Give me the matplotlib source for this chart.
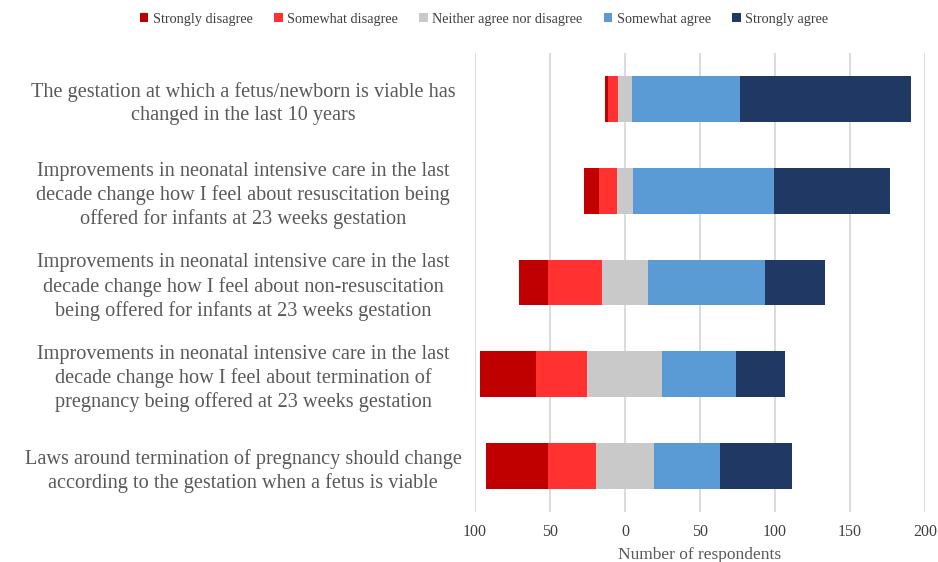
import numpy as np
import matplotlib.pyplot as plt
from matplotlib.ticker import FuncFormatter

plt.rcParams['font.family'] = ['Liberation Serif', 'DejaVu Serif']

# survey statements (top to bottom)
statements = [
    'The gestation at which a fetus/newborn is viable has\nchanged in the last 10 years',
    'Improvements in neonatal intensive care in the last\ndecade change how I feel about resuscitation being\noffered for infants at 23 weeks gestation',
    'Improvements in neonatal intensive care in the last\ndecade change how I feel about non-resuscitation\nbeing offered for infants at 23 weeks gestation',
    'Improvements in neonatal intensive care in the last\ndecade change how I feel about termination of\npregnancy being offered at 23 weeks gestation',
    'Laws around termination of pregnancy should change\naccording to the gestation when a fetus is viable',
]

strongly_disagree = [2, 10, 19, 38, 41]
somewhat_disagree = [7, 12, 36, 34, 32]
neither = [9, 11, 31, 50, 39]
somewhat_agree = [72, 94, 78, 49, 44]
strongly_agree = [114, 77, 40, 33, 48]

labels = ['Strongly disagree', 'Somewhat disagree', 'Neither agree nor disagree',
          'Somewhat agree', 'Strongly agree']
colors = ['#C00000', '#FF3131', '#C9C9C9', '#5B9BD5', '#203864']

fig = plt.figure(figsize=(9.38, 5.62), dpi=100)
ax = fig.add_axes([0.5064, 0.089, 0.4797, 0.8167])

y = np.arange(len(statements))
series = [strongly_disagree, somewhat_disagree, neither, somewhat_agree, strongly_agree]

# diverging: neutral centred on zero
left = -(np.array(strongly_disagree) + np.array(somewhat_disagree) + np.array(neither) / 2.0)
for vals, lab, col in zip(series, labels, colors):
    vals = np.array(vals, dtype=float)
    ax.barh(y, vals, left=left, height=0.5, color=col, label=lab, zorder=3)
    left = left + vals

ax.set_xlim(-100, 200)
ax.set_ylim(len(statements) - 0.5, -0.5)
ax.set_xticks(np.arange(-100, 201, 50))
ax.xaxis.set_major_formatter(FuncFormatter(lambda v, p: '%d' % abs(v)))
ax.set_yticks(y)
ax.set_yticklabels(statements, fontsize=14.6, color='#595959', ha='center',
                   linespacing=1.28)
ax.tick_params(axis='y', length=0, pad=167)
ax.tick_params(axis='x', length=0, labelsize=11.5, pad=9, colors='#404040')
ax.grid(axis='x', color='#D9D9D9', linewidth=1.3, zorder=0)
for s in ax.spines.values():
    s.set_visible(False)
ax.set_xlabel('Number of respondents', fontsize=12.5, color='#595959', labelpad=5)

fig.legend(loc='upper center', bbox_to_anchor=(0.516, 1.0), ncol=5, frameon=False,
           fontsize=10.3, handlelength=0.6, handleheight=0.6, handletextpad=0.3,
           columnspacing=1.5, labelcolor='#404040')

fig.savefig('out.png', dpi=100)
